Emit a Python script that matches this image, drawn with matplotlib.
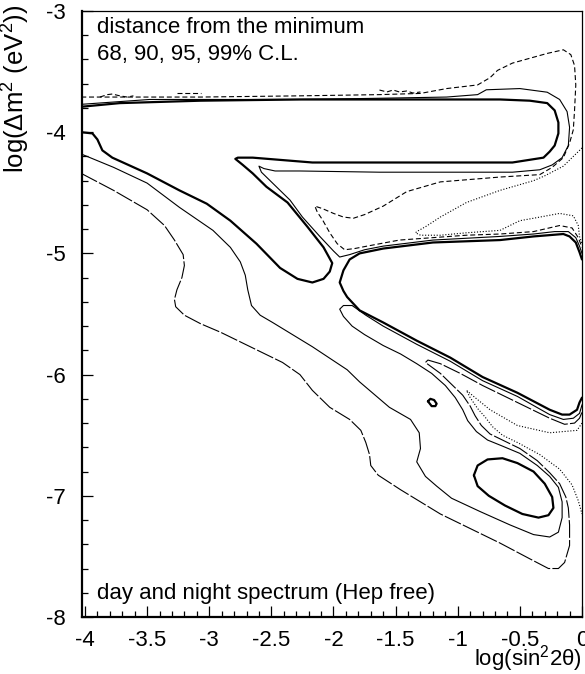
import matplotlib
matplotlib.use("Agg")
import matplotlib.pyplot as plt
from matplotlib.ticker import MultipleLocator

plt.rcParams['font.family'] = ['Liberation Sans', 'DejaVu Sans']
plt.rcParams['mathtext.fontset'] = 'custom'
plt.rcParams['mathtext.rm'] = 'Liberation Sans'
plt.rcParams['mathtext.it'] = 'Liberation Sans:italic'
plt.rcParams['axes.unicode_minus'] = False

# ---- contour curves: x = log(sin^2 2theta), y = log(dm^2 / eV^2) ----
# 68% C.L. (thick): large-angle band joined to the diagonal finger
c68_lma_x = [-4.03, -3.72, -3.07, -2.27, -1.47, -0.66, -0.42, -0.28, -0.22, -0.19,
             -0.19, -0.22, -0.26, -0.31, -0.56, -1.09, -1.63, -2.17, -2.65, -2.77,
             -2.79, -2.73, -2.65, -2.54, -2.37, -2.21, -2.08, -2.01, -2.03, -2.08,
             -2.17, -2.29, -2.43, -2.62, -2.83, -3.02, -3.24, -3.50, -3.78, -3.86,
             -3.90, -3.94, -4.03]
c68_lma_y = [-3.79, -3.76, -3.74, -3.73, -3.73, -3.73, -3.74, -3.76, -3.82, -3.92,
             -4.01, -4.11, -4.16, -4.21, -4.25, -4.25, -4.25, -4.25, -4.21, -4.21,
             -4.22, -4.27, -4.34, -4.45, -4.58, -4.78, -4.95, -5.08, -5.15, -5.21,
             -5.24, -5.21, -5.12, -4.92, -4.73, -4.59, -4.48, -4.34, -4.21, -4.15,
             -4.06, -4.01, -4.00]
# 68% C.L.: middle region open towards maximal mixing
c68_mid_x = [0.0, -0.02, -0.05, -0.10, -0.15, -0.39, -0.66, -1.20, -1.60, -1.79,
             -1.87, -1.92, -1.95, -1.92, -1.89, -1.79, -1.60, -1.33, -1.06, -0.80,
             -0.52, -0.26, -0.16, -0.10, -0.04, -0.02, 0.0]
c68_mid_y = [-5.05, -4.99, -4.91, -4.86, -4.84, -4.86, -4.89, -4.91, -4.96, -5.00,
             -5.05, -5.14, -5.24, -5.31, -5.36, -5.47, -5.57, -5.72, -5.86, -6.02,
             -6.15, -6.29, -6.33, -6.33, -6.29, -6.23, -6.19]
# 68% C.L.: small island
c68_dot_x = [-1.24, -1.22, -1.19, -1.17, -1.18, -1.21, -1.24]
c68_dot_y = [-6.22, -6.20, -6.21, -6.24, -6.26, -6.26, -6.22]
# 68% C.L.: low-mass island
c68_low_x = [-0.87, -0.84, -0.76, -0.64, -0.52, -0.39, -0.30, -0.24, -0.23, -0.27,
             -0.35, -0.48, -0.62, -0.75, -0.84, -0.87]
c68_low_y = [-6.83, -6.75, -6.70, -6.69, -6.73, -6.80, -6.90, -7.01, -7.10, -7.16,
             -7.18, -7.15, -7.08, -7.00, -6.92, -6.83]

# 90% C.L. (thin): upper contour through the saddle
c90_up_x = [-4.03, -3.48, -2.27, -1.63, -1.09, -0.84, -0.77, -0.50, -0.28, -0.18,
            -0.12, -0.10, -0.11, -0.16, -0.24, -0.34, -0.56, -1.09, -1.63, -2.27,
            -2.47, -2.56, -2.60, -2.58, -2.49, -2.35, -2.25, -2.11, -2.00, -1.95,
            -1.87, -1.75, -1.60, -1.20, -0.66, -0.39, -0.22, -0.11, -0.05, -0.02, 0.0]
c90_up_y = [-3.77, -3.73, -3.73, -3.72, -3.71, -3.69, -3.65, -3.64, -3.67, -3.73,
            -3.83, -3.96, -4.11, -4.21, -4.27, -4.31, -4.33, -4.33, -4.33, -4.32,
            -4.32, -4.30, -4.28, -4.33, -4.42, -4.56, -4.70, -4.86, -4.98, -5.03,
            -5.01, -4.97, -4.94, -4.89, -4.86, -4.84, -4.82, -4.82, -4.87, -4.94, -5.00]
# 90% C.L.: lower contour around the low-mass island
c90_lo_x = [-4.03, -3.77, -3.50, -3.24, -2.97, -2.83, -2.75, -2.71, -2.69, -2.66,
            -2.59, -2.49, -2.17, -1.89, -1.79, -1.55, -1.38, -1.31, -1.30, -1.33,
            -1.26, -1.17, -1.05, -0.82, -0.58, -0.39, -0.26, -0.19, -0.16, -0.16,
            -0.19, -0.26, -0.36, -0.50, -0.64, -0.76, -0.85, -0.92, -0.96, -1.02,
            -1.10, -1.21, -1.33, -1.46, -1.60, -1.75, -1.85, -1.92, -1.95, -1.92,
            -1.85, -1.74, -1.60, -1.33, -1.06, -0.80, -0.52, -0.26, -0.15, -0.07,
            -0.02, 0.0]
c90_lo_y = [-4.18, -4.29, -4.42, -4.62, -4.81, -4.95, -5.07, -5.18, -5.30, -5.43,
            -5.51, -5.57, -5.77, -5.96, -6.06, -6.27, -6.37, -6.48, -6.61, -6.72,
            -6.84, -6.92, -7.02, -7.13, -7.24, -7.32, -7.34, -7.30, -7.18, -7.05,
            -6.93, -6.84, -6.75, -6.65, -6.59, -6.54, -6.47, -6.38, -6.29, -6.19,
            -6.09, -5.99, -5.91, -5.83, -5.76, -5.67, -5.60, -5.52, -5.46, -5.43,
            -5.43, -5.51, -5.60, -5.75, -5.89, -6.05, -6.18, -6.33, -6.37, -6.36,
            -6.32, -6.25]

# 95% C.L. (dashed): upper contour
c95_up_x = [-4.03, -3.07, -2.27, -1.63, -1.30, -1.09, -0.84, -0.74, -0.68, -0.56,
            -0.28, -0.15, -0.09, -0.06, -0.05, -0.06, -0.07, -0.10, -0.15, -0.24,
            -0.34, -0.66, -0.90, -1.14, -1.41, -1.60, -1.75, -1.84, -1.92, -2.00,
            -2.09, -2.15, -2.13, -2.09, -2.03, -1.97, -1.91, -1.83, -1.73, -1.47,
            -1.20, -0.93, -0.66, -0.39, -0.18, -0.08, -0.03, 0.0]
c95_up_y = [-3.71, -3.71, -3.70, -3.69, -3.68, -3.64, -3.61, -3.55, -3.49, -3.43,
            -3.35, -3.32, -3.36, -3.45, -3.61, -3.82, -3.98, -4.09, -4.21, -4.29,
            -4.35, -4.37, -4.39, -4.41, -4.49, -4.61, -4.68, -4.71, -4.70, -4.67,
            -4.63, -4.61, -4.66, -4.72, -4.83, -4.92, -4.97, -4.96, -4.94, -4.89,
            -4.87, -4.85, -4.84, -4.82, -4.77, -4.79, -4.87, -4.95]
# 95% C.L.: lower contour
c95_lo_x = [-4.03, -3.77, -3.50, -3.36, -3.28, -3.21, -3.20, -3.22, -3.26, -3.28,
            -3.27, -3.20, -3.07, -2.91, -2.67, -2.41, -2.27, -2.17, -2.03, -1.87,
            -1.78, -1.74, -1.71, -1.70, -1.64, -1.46, -1.30, -1.14, -0.90, -0.66,
            -0.42, -0.27, -0.19, -0.14, -0.10, -0.10, -0.11, -0.13, -0.18, -0.26,
            -0.36, -0.50, -0.64, -0.74, -0.81, -0.86, -0.90, -0.96, -1.05, -1.14,
            -1.22, -1.26, -1.24, -1.14, -0.98, -0.80, -0.52, -0.26, -0.14, -0.06,
            -0.02, 0.0]
c95_lo_y = [-4.34, -4.48, -4.64, -4.77, -4.89, -5.01, -5.10, -5.20, -5.30, -5.38,
            -5.44, -5.51, -5.58, -5.65, -5.77, -5.90, -6.00, -6.13, -6.27, -6.37,
            -6.46, -6.56, -6.66, -6.75, -6.83, -6.95, -7.05, -7.15, -7.27, -7.39,
            -7.52, -7.60, -7.60, -7.55, -7.41, -7.24, -7.10, -7.01, -6.90, -6.81,
            -6.71, -6.61, -6.54, -6.49, -6.42, -6.34, -6.26, -6.17, -6.08, -5.99,
            -5.93, -5.90, -5.88, -5.91, -5.99, -6.09, -6.23, -6.36, -6.41, -6.40,
            -6.36, -6.31]

# 99% C.L. (dotted)
c99_up_x = [0.0, -0.06, -0.15, -0.30, -0.39, -0.66, -0.93, -1.14, -1.26, -1.33,
            -1.34, -1.30, -1.14, -0.93, -0.66, -0.58, -0.50, -0.39, -0.18, -0.07,
            -0.03, -0.02, 0.0]
c99_up_y = [-4.13, -4.19, -4.28, -4.36, -4.40, -4.48, -4.58, -4.70, -4.78, -4.82,
            -4.83, -4.85, -4.85, -4.83, -4.81, -4.77, -4.73, -4.71, -4.67, -4.69,
            -4.77, -4.86, -4.92]
c99_lo_x = [0.0, -0.04, -0.26, -0.52, -0.74, -0.86, -0.93, -0.90, -0.84, -0.78,
            -0.72, -0.64, -0.52, -0.34, -0.18, -0.08, -0.03, 0.0]
c99_lo_y = [-6.40, -6.46, -6.48, -6.42, -6.29, -6.19, -6.13, -6.19, -6.28, -6.35,
            -6.43, -6.50, -6.56, -6.66, -6.78, -6.91, -7.04, -7.15]

# small fragments near the upper edge of the large-angle band
frag_a_x = [-3.88, -3.82, -3.78, -3.72, -3.66, -3.61]
frag_a_y = [-3.71, -3.69, -3.685, -3.70, -3.71, -3.70]
frag_b_x = [-3.26, -3.07]
frag_b_y = [-3.677, -3.677]
frag_c_x = [-1.63, -1.57, -1.52, -1.47, -1.41, -1.36, -1.30]
frag_c_y = [-3.652, -3.668, -3.652, -3.668, -3.66, -3.677, -3.668]

xticks = [-4, -3.5, -3, -2.5, -2, -1.5, -1, -0.5, 0]
xtick_labels = ['-4', '-3.5', '-3', '-2.5', '-2', '-1.5', '-1', '-0.5', '0']
yticks = [-8, -7, -6, -5, -4, -3]
ytick_labels = ['-8', '-7', '-6', '-5', '-4', '-3']

W, H = 585, 674
fig = plt.figure(figsize=(W / 100, H / 100), dpi=100)
ax = fig.add_axes([82 / W, (H - 617) / H, 500 / W, 606 / H])

thick = dict(color='black', lw=1.6, solid_joinstyle='round', solid_capstyle='round')
thin = dict(color='black', lw=0.8, solid_joinstyle='round')
dashed = dict(color='black', lw=0.8, dashes=(4.5, 2.5))
dashed_long = dict(color='black', lw=0.8, dashes=(16, 2.0))
dotted = dict(color='black', lw=0.8, dashes=(1.0, 1.6))

ax.plot(c68_lma_x, c68_lma_y, **thick)
ax.plot(c68_mid_x, c68_mid_y, **thick)
ax.plot(c68_dot_x, c68_dot_y, **thick)
ax.plot(c68_low_x, c68_low_y, **thick)
ax.plot(c90_up_x, c90_up_y, **thin)
ax.plot(c90_lo_x, c90_lo_y, **thin)
ax.plot(c95_up_x, c95_up_y, **dashed)
ax.plot(c95_lo_x, c95_lo_y, **dashed_long)
ax.plot(c99_up_x, c99_up_y, **dotted)
ax.plot(c99_lo_x, c99_lo_y, **dotted)
ax.plot(frag_a_x, frag_a_y, **dashed)
ax.plot(frag_b_x, frag_b_y, **dashed)
ax.plot(frag_c_x, frag_c_y, **dashed)

ax.set_xlim(-4.024, 0)
ax.set_ylim(-8, -3)
ax.set_xticks(xticks, xtick_labels)
ax.set_yticks(yticks, ytick_labels)
ax.xaxis.set_minor_locator(MultipleLocator(0.1))
ax.yaxis.set_minor_locator(MultipleLocator(0.2))
ax.tick_params(which='both', direction='in', top=False, right=False,
               labelsize=16, width=0.9, color='black')
ax.tick_params(which='major', length=8)
ax.tick_params(which='minor', length=4.3)
ax.tick_params(axis='x', pad=9.5)
ax.tick_params(axis='y', pad=12)
for side in ('left', 'bottom'):
    ax.spines[side].set_linewidth(1.6)
for side in ('top', 'right'):
    ax.spines[side].set_linewidth(0.9)

fs = 16
fig.text(97 / W, 1 - 33 / H, 'distance from the minimum', fontsize=fs, va='baseline')
fig.text(97 / W, 1 - 60 / H, '68, 90, 95, 99% C.L.', fontsize=fs, va='baseline')
fig.text(97 / W, 1 - 599 / H, 'day and night spectrum (Hep free)', fontsize=fs, va='baseline')
fig.text(582 / W, 8 / H, 'log(sin$^{2}$2\u03b8)', fontsize=fs, ha='right', va='baseline')
fig.text(16 / W, 1 - 5 / H, 'log(\u0394m$^{2}$ (eV$^{2}$))', fontsize=18.5,
         rotation=90, ha='center', va='top')

fig.savefig('out.png', dpi=100)
